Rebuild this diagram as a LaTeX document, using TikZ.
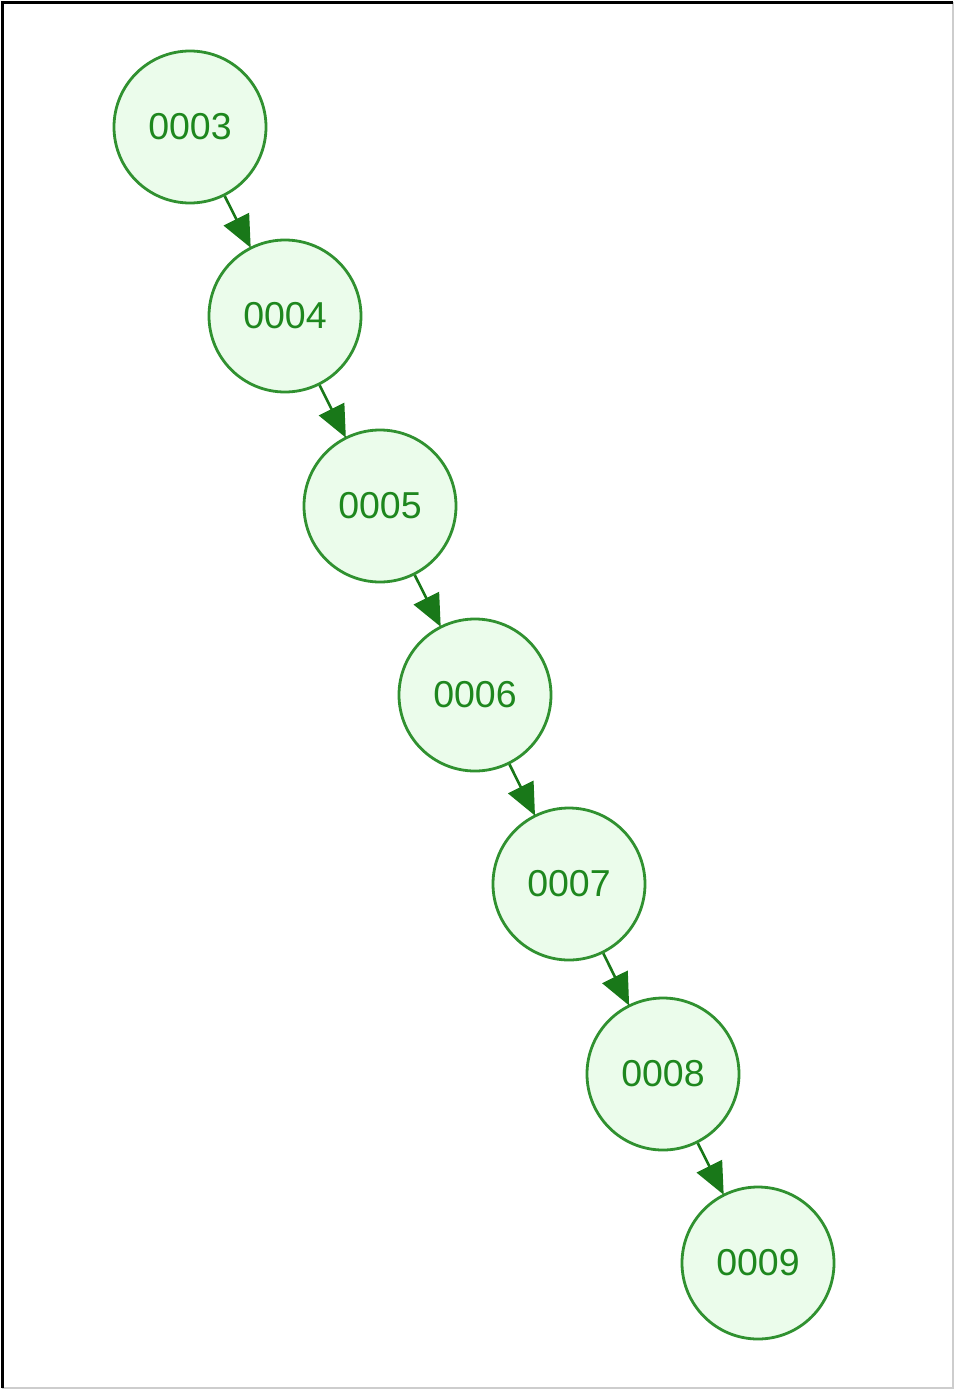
\documentclass[tikz,border=0pt]{standalone}
\usepackage{fontspec}
\setmainfont{Liberation Sans}
\usetikzlibrary{arrows.meta}
\definecolor{nodeline}{RGB}{48,145,48}
\definecolor{nodefill}{RGB}{235,252,235}
\definecolor{nodetext}{RGB}{30,135,30}
\definecolor{edgecol}{RGB}{25,120,25}
\definecolor{framegray}{RGB}{205,205,205}
\begin{document}
\begin{tikzpicture}[x=1pt,y=-1pt,
  treenode/.style={circle,draw=nodeline,fill=nodefill,line width=2.8pt,minimum size=152pt,inner sep=0pt,text=nodetext,font=\fontsize{37.5}{40}\selectfont},
  treeedge/.style={draw=edgecol,line width=2.6pt,-{Triangle[length=32pt,width=28pt]},shorten >=-1pt}]
\useasboundingbox (0,0) rectangle (955,1390);
\fill[white] (0,0) rectangle (955,1390);
\draw[framegray,line width=2pt] (953,2) -- (953,1388) -- (2,1388);
\draw[black,line width=3pt] (2,1388) -- (2,2.5) -- (953,2.5);
\node[treenode] (n3) at (190,127) {0003};
\node[treenode] (n4) at (285,316) {0004};
\node[treenode] (n5) at (380,506) {0005};
\node[treenode] (n6) at (475,695) {0006};
\node[treenode] (n7) at (569,884) {0007};
\node[treenode] (n8) at (663,1074) {0008};
\node[treenode] (n9) at (758,1263) {0009};
\draw[treeedge] (n3) -- (n4);
\draw[treeedge] (n4) -- (n5);
\draw[treeedge] (n5) -- (n6);
\draw[treeedge] (n6) -- (n7);
\draw[treeedge] (n7) -- (n8);
\draw[treeedge] (n8) -- (n9);
\end{tikzpicture}
\end{document}
